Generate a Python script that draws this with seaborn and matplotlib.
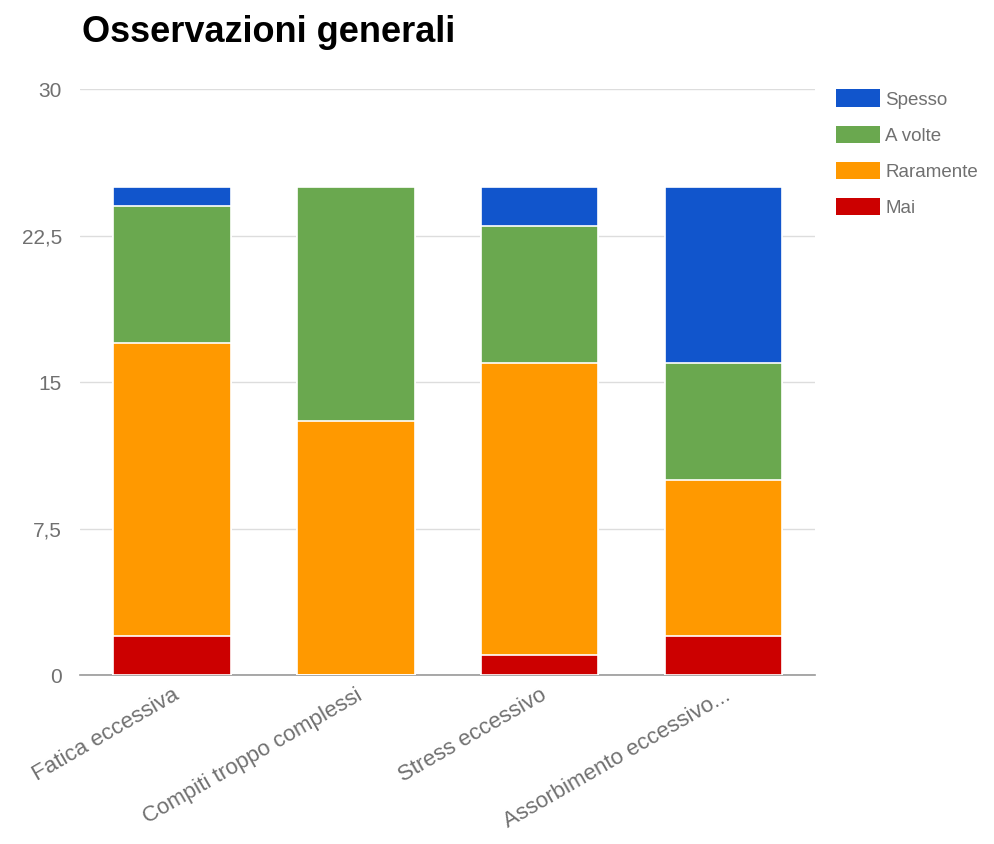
import numpy as np
import pandas as pd
import matplotlib
matplotlib.use("Agg")
import matplotlib.pyplot as plt
from matplotlib.patches import Patch
from matplotlib.ticker import FuncFormatter
import seaborn as sns

categories = ["Fatica eccessiva", "Compiti troppo complessi",
              "Stress eccessivo", "Assorbimento eccessivo..."]
mai = [2, 0, 1, 2]
raramente = [15, 13, 15, 8]
a_volte = [7, 12, 7, 6]
spesso = [1, 0, 2, 9]

series_names = ["Mai", "Raramente", "A volte", "Spesso"]
series_values = [mai, raramente, a_volte, spesso]
colors = {"Mai": "#CC0000", "Raramente": "#FF9900",
          "A volte": "#6AA84F", "Spesso": "#1155CC"}
y_ticks = [0, 7.5, 15, 22.5, 30]

sns.set_theme(style="white")
plt.rcParams["font.family"] = ["Liberation Sans", "DejaVu Sans"]

# cumulative totals for stacking
cum = np.cumsum(np.array(series_values), axis=0)
df = pd.DataFrame({"category": categories})
for name, row in zip(series_names, cum):
    df[name] = row

fig = plt.figure(figsize=(9.95, 8.44), dpi=100)
ax = fig.add_axes([0.0804, 0.2002, 0.739, 0.6943])

# draw tallest stack first so lower segments overlay it
for name in reversed(series_names):
    sns.barplot(data=df, x="category", y=name, color=colors[name],
                width=0.64, edgecolor="white", linewidth=1.2,
                saturation=1, ax=ax, zorder=3)

ax.set_ylim(0, 30)
ax.set_xlim(-0.5, 3.5)
ax.set_yticks(y_ticks)
ax.yaxis.set_major_formatter(
    FuncFormatter(lambda v, p: (f"{v:g}").replace(".", ",")))
ax.yaxis.grid(True, color="#dddddd", linewidth=1, zorder=0)
ax.set_axisbelow(True)
for s in ["top", "right", "left"]:
    ax.spines[s].set_visible(False)
ax.spines["bottom"].set_color("#999999")
ax.spines["bottom"].set_linewidth(1.2)
ax.set_xlabel("")
ax.set_ylabel("")
ax.tick_params(axis="y", length=0, pad=13, labelsize=15, labelcolor="#707070")
ax.tick_params(axis="x", length=0, pad=7, labelsize=16, labelcolor="#707070")
plt.setp(ax.get_xticklabels(), rotation=30, ha="right",
         rotation_mode="anchor")
for lbl in ax.get_yticklabels():
    lbl.set_horizontalalignment("right")

fig.text(0.0824, 0.950, "Osservazioni generali", fontsize=26,
         fontweight="bold", color="#000000", va="baseline")

handles = [Patch(facecolor=colors[n], edgecolor="none", label=n)
           for n in ["Spesso", "A volte", "Raramente", "Mai"]]
fig.legend(handles=handles, loc="upper left",
           bbox_to_anchor=(0.840, 0.894), frameon=False,
           fontsize=13.5, handlelength=2.35, handleheight=1.07,
           handletextpad=0.3, labelspacing=0.9, labelcolor="#707070",
           borderaxespad=0, borderpad=0)

fig.savefig("out.png", dpi=100, facecolor="white")
